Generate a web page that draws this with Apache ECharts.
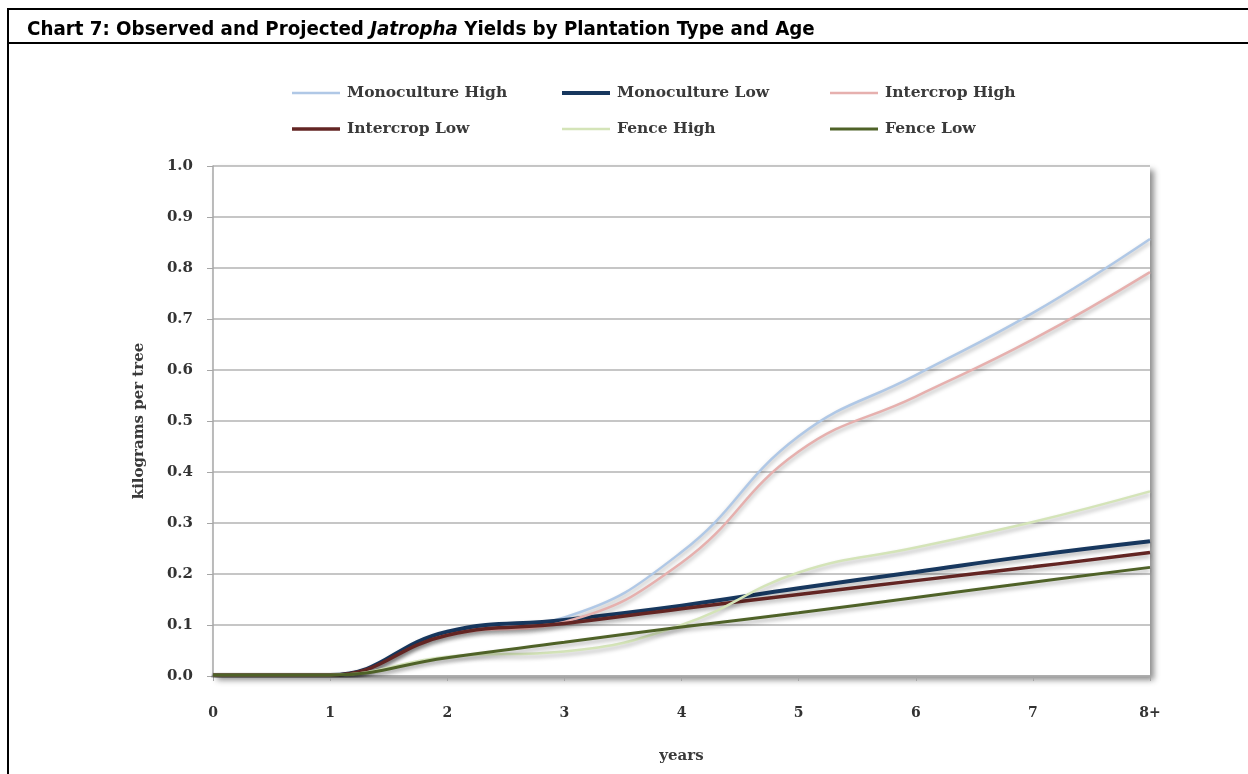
<!DOCTYPE html>
<html>
<head>
<meta charset="utf-8">
<style>
  html, body { margin: 0; padding: 0; background: #fff; }
  #chart { width: 1248px; height: 774px; }
</style>
<script src="https://cdn.jsdelivr.net/npm/echarts@6/dist/echarts.min.js"></script>
</head>
<body>
<div id="chart"></div>
<script>
// Plantation age in years
const years = ['0', '1', '2', '3', '4', '5', '6', '7', '8+'];
const yTicks = [0, 0.1, 0.2, 0.3, 0.4, 0.5, 0.6, 0.7, 0.8, 0.9, 1.0];

// Yield per tree (kg) for each plantation type
const monocultureHigh = [0.002, 0.002, 0.085, 0.115, 0.243, 0.470, 0.590, 0.712, 0.857];
const monocultureLow  = [0.002, 0.002, 0.087, 0.110, 0.138, 0.172, 0.204, 0.236, 0.264];
const intercropHigh   = [0.002, 0.002, 0.080, 0.106, 0.222, 0.440, 0.548, 0.660, 0.792];
const intercropLow    = [0.002, 0.002, 0.080, 0.103, 0.132, 0.160, 0.187, 0.214, 0.242];
const fenceHigh       = [0.002, 0.002, 0.038, 0.048, 0.100, 0.203, 0.252, 0.302, 0.362];
const fenceLow        = [0.002, 0.002, 0.036, 0.066, 0.096, 0.124, 0.154, 0.184, 0.213];

const seriesDefs = [
  { name: 'Monoculture High', data: monocultureHigh, color: '#b0c8e6', width: 2.5 },
  { name: 'Monoculture Low',  data: monocultureLow,  color: '#17375e', width: 4 },
  { name: 'Intercrop High',   data: intercropHigh,   color: '#e6b0ae', width: 2.5 },
  { name: 'Intercrop Low',    data: intercropLow,    color: '#632523', width: 3.5 },
  { name: 'Fence High',       data: fenceHigh,       color: '#d4e4b8', width: 2.5 },
  { name: 'Fence Low',        data: fenceLow,        color: '#4f6228', width: 3 }
];

const serifFont = '"DejaVu Serif", "Liberation Serif", serif';
const legendPos = [
  [292, 85], [562, 85], [830, 85],
  [292, 121], [562, 121], [830, 121]
];

const chart = echarts.init(document.getElementById('chart'), null, { renderer: 'canvas' });

chart.setOption({
  animation: false,
  backgroundColor: '#ffffff',
  title: {
    left: 22,
    top: 15,
    text: '{a|Chart 7: Observed and Projected }{i|Jatropha}{a| Yields by Plantation Type and Age}',
    textStyle: {
      rich: {
        a: { fontFamily: '"Liberation Sans Narrow", "DejaVu Sans Condensed", sans-serif', fontWeight: 'bold', fontSize: 20.3, color: '#000' },
        i: { fontFamily: '"Liberation Sans Narrow", "DejaVu Sans Condensed", sans-serif', fontWeight: 'bold', fontStyle: 'italic', fontSize: 20.3, color: '#000' }
      }
    }
  },
  graphic: [
    // frame around the heading strip and down the left side
    { type: 'line', shape: { x1: 8, y1: 9, x2: 1248, y2: 9 }, style: { stroke: '#000', lineWidth: 2 } },
    { type: 'line', shape: { x1: 8, y1: 43, x2: 1248, y2: 43 }, style: { stroke: '#000', lineWidth: 2 } },
    { type: 'line', shape: { x1: 8, y1: 8, x2: 8, y2: 774 }, style: { stroke: '#000', lineWidth: 2 } }
  ],
  legend: seriesDefs.map((s, i) => ({
    data: [s.name],
    left: legendPos[i][0],
    top: legendPos[i][1],
    padding: 0,
    icon: 'rect',
    itemWidth: 48,
    itemHeight: s.width,
    itemGap: 0,
    selectedMode: false,
    textStyle: { fontFamily: serifFont, fontWeight: 'bold', fontSize: 15.5, color: '#3a3a3a', padding: [0, 0, 0, 2] }
  })),
  grid: {
    left: 213,
    right: 98,
    top: 166,
    bottom: 98,
    show: true,
    borderWidth: 0,
    backgroundColor: '#ffffff',
    shadowColor: 'rgba(0,0,0,0.45)',
    shadowBlur: 6,
    shadowOffsetX: 4,
    shadowOffsetY: 4
  },
  xAxis: {
    type: 'category',
    data: years,
    boundaryGap: false,
    name: 'years',
    nameLocation: 'middle',
    nameGap: 73,
    nameTextStyle: { fontFamily: serifFont, fontWeight: 'bold', fontSize: 15, color: '#3a3a3a' },
    axisLine: { lineStyle: { color: '#a6a6a6', width: 1.5 } },
    axisTick: { show: true, length: 5, lineStyle: { color: '#a6a6a6' } },
    axisLabel: { margin: 30, fontFamily: serifFont, fontWeight: 'bold', fontSize: 14, color: '#333' },
    splitLine: { show: false }
  },
  yAxis: {
    type: 'value',
    min: 0,
    max: 1,
    interval: 0.1,
    name: 'kilograms per tree',
    nameLocation: 'middle',
    nameGap: 66,
    nameTextStyle: { fontFamily: serifFont, fontWeight: 'bold', fontSize: 15, color: '#3a3a3a' },
    axisLine: { show: true, lineStyle: { color: '#a6a6a6', width: 1.5 } },
    axisTick: { show: true, length: 6, lineStyle: { color: '#a6a6a6' } },
    axisLabel: {
      margin: 20,
      fontFamily: serifFont,
      fontWeight: 'bold',
      fontSize: 15,
      color: '#333',
      formatter: v => {
        const t = yTicks.find(k => Math.abs(k - v) < 1e-9);
        return (t === undefined ? v : t).toFixed(1);
      }
    },
    splitLine: { lineStyle: { color: '#b3b3b3', width: 1.5 } }
  },
  series: seriesDefs.map(s => ({
    name: s.name,
    type: 'line',
    data: s.data,
    smooth: 0.45,
    symbol: 'none',
    color: s.color,
    lineStyle: {
      color: s.color,
      width: s.width,
      shadowColor: 'rgba(0,0,0,0.3)',
      shadowBlur: 4,
      shadowOffsetY: 3
    }
  }))
});
</script>
</body>
</html>
